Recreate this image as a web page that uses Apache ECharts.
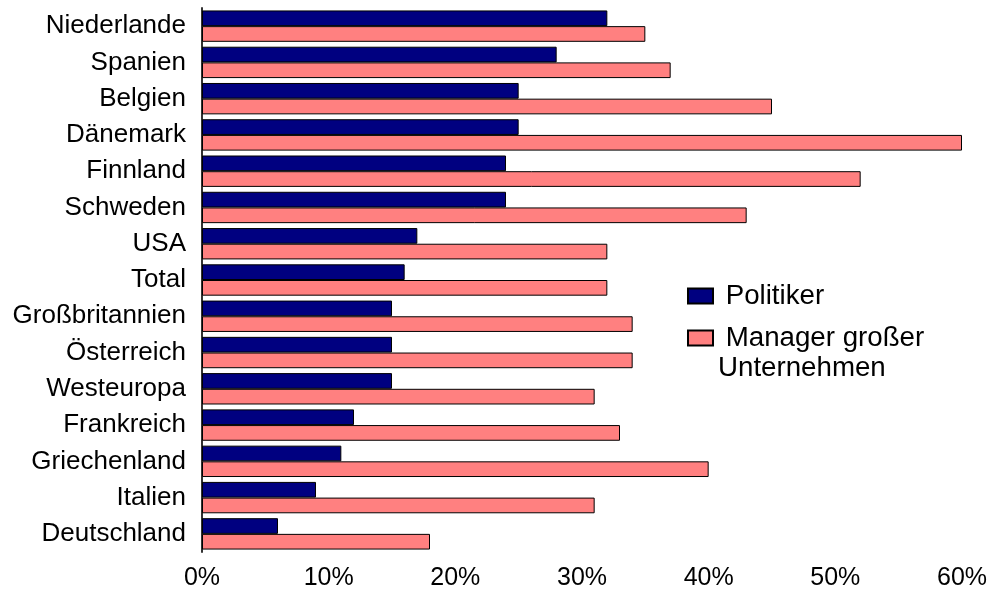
<!DOCTYPE html>
<html>
<head>
<meta charset="utf-8">
<script src="https://cdn.jsdelivr.net/npm/echarts@6/dist/echarts.min.js"></script>
<style>
html,body{margin:0;padding:0;background:#fff;}
#chart{width:994px;height:594px;}
</style>
</head>
<body>
<div id="chart"></div>
<script>
var categories = ['Niederlande','Spanien','Belgien','Dänemark','Finnland','Schweden','USA','Total','Großbritannien','Österreich','Westeuropa','Frankreich','Griechenland','Italien','Deutschland'];
var politiker = [32,28,25,25,24,24,17,16,15,15,15,12,11,9,6];
var manager = [35,37,45,60,52,43,32,32,34,34,31,33,40,31,18];
var xTicks = {min:0, max:60, interval:10};
var seriesNames = ['Politiker','Manager großer Unternehmen'];

var chart = echarts.init(document.getElementById('chart'), null, {renderer:'canvas'});
var font = 'Liberation Sans, Arial, sans-serif';
chart.setOption({
  animation:false,
  backgroundColor:'#fff',
  grid:{left:202, right:32, top:8, bottom:42, containLabel:false},
  legend:{
    orient:'vertical', left:687, top:281, padding:0,
    itemWidth:25, itemHeight:15, itemGap:-18,
    icon:'rect',
    textStyle:{fontFamily:font, fontSize:27.7, color:'#000', lineHeight:30},
    formatter:function(name){
      if (name === seriesNames[1]) { return ' \n Manager großer\nUnternehmen'; }
      return ' ' + name;
    },
    data:seriesNames
  },
  xAxis:{
    type:'value', min:xTicks.min, max:xTicks.max, interval:xTicks.interval,
    axisLine:{show:false}, axisTick:{show:false}, splitLine:{show:false},
    axisLabel:{formatter:'{value}%', fontFamily:font, fontSize:25, color:'#000', margin:14}
  },
  yAxis:{
    type:'category', inverse:true, data:categories,
    axisLine:{show:true, lineStyle:{color:'#333', width:2}},
    axisTick:{show:false},
    axisLabel:{fontFamily:font, fontSize:26, color:'#000', margin:16}
  },
  series:[
    {name:seriesNames[0], type:'bar', data:politiker, barGap:'0%', barCategoryGap:'13.5%',
     itemStyle:{color:'#000080', borderColor:'#000', borderWidth:1}},
    {name:seriesNames[1], type:'bar', data:manager, barGap:'0%', barCategoryGap:'13.5%',
     itemStyle:{color:'#FF8080', borderColor:'#000', borderWidth:1}}
  ]
});
</script>
</body>
</html>
